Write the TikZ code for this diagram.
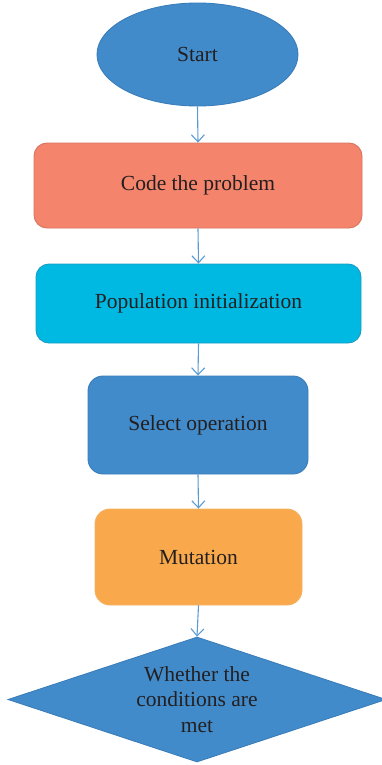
\documentclass[tikz,border=0pt]{standalone}
\usepackage{fontspec}
\setmainfont{Liberation Serif}
\usetikzlibrary{shapes.geometric,arrows.meta}
\definecolor{txt}{HTML}{231F20}
\definecolor{bluefill}{HTML}{428BCA}
\definecolor{blueline}{HTML}{3A7DBA}
\definecolor{salmon}{HTML}{F4846C}
\definecolor{salmonline}{HTML}{D8735E}
\definecolor{cyanfill}{HTML}{00B9E3}
\definecolor{cyanline}{HTML}{1B9BC3}
\definecolor{orangefill}{HTML}{F9A94B}
\definecolor{orangeline}{HTML}{F3B25F}
\definecolor{arrowc}{HTML}{5B9BD5}
\tikzset{
  lbl/.style={text=txt, font=\fontsize{21.5}{25.5}\selectfont, align=center, inner sep=0pt},
  procbox/.style={lbl, rectangle, rounded corners=13pt, line width=0.9pt},
  startnode/.style={lbl, ellipse, fill=bluefill, draw=blueline, line width=0.9pt},
  decision/.style={lbl, diamond, aspect=3, fill=bluefill, draw=blueline, line width=0.9pt},
  flow/.style={draw=arrowc, line width=1.1pt, -{Straight Barb[length=7pt,width=13pt,line width=1.1pt]}}
}
\begin{document}
\begin{tikzpicture}[x=1pt,y=-1pt]
\useasboundingbox (0,0) rectangle (382,765);
\node[startnode, minimum width=201pt, minimum height=103pt] (start) at (197.5,54.5) {Start};
\node[procbox, fill=salmon, draw=salmonline, minimum width=328pt, minimum height=85pt] (code) at (198,185.5) {Code the problem};
\node[procbox, fill=cyanfill, draw=cyanline, minimum width=325pt, minimum height=79pt] (pop) at (198.5,303.5) {Population initialization};
\node[procbox, fill=bluefill, draw=blueline, minimum width=220pt, minimum height=98pt, rounded corners=15pt] (sel) at (198,425) {Select operation};
\node[procbox, fill=orangefill, draw=orangeline, minimum width=207pt, minimum height=96pt, rounded corners=15pt] (mut) at (198.5,557) {Mutation};
\node[decision, minimum width=378pt, minimum height=125pt] (dec) at (197,699.5) {Whether the\\conditions are\\met};
\draw[flow] (start.south) -- (code.north);
\draw[flow] (code.south) -- (pop.north);
\draw[flow] (pop.south) -- (sel.north);
\draw[flow] (sel.south) -- (mut.north);
\draw[flow] (mut.south) -- (dec.north);
\end{tikzpicture}
\end{document}
